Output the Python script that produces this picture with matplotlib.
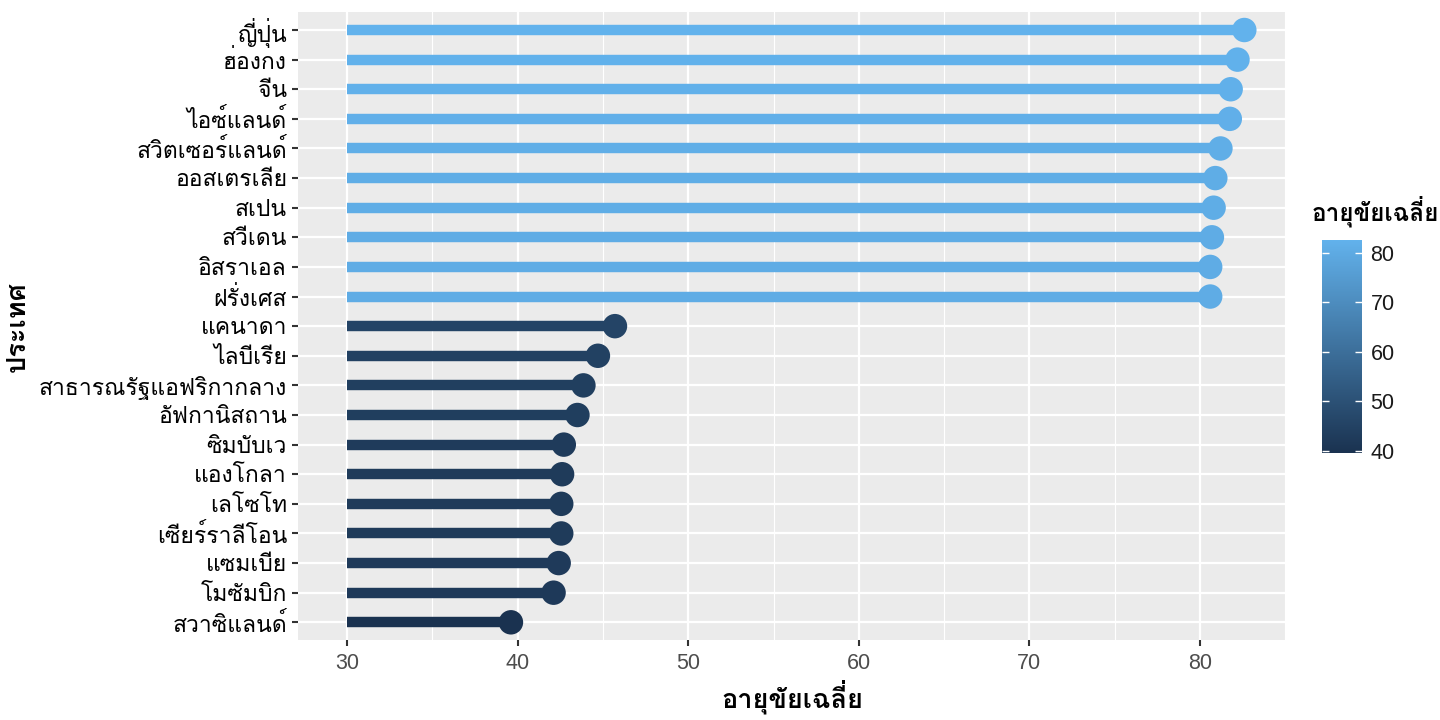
import matplotlib
matplotlib.use("Agg")
import matplotlib.pyplot as plt
import numpy as np
from matplotlib import font_manager
from matplotlib.ft2font import FT2Font
from matplotlib.colors import LinearSegmentedColormap, Normalize
from matplotlib.cm import ScalarMappable
from matplotlib.ticker import MultipleLocator

countries = ["ญี่ปุ่น", "ฮ่องกง", "จีน", "ไอซ์แลนด์", "สวิตเซอร์แลนด์", "ออสเตรเลีย",
             "สเปน", "สวีเดน", "อิสราเอล", "ฝรั่งเศส", "แคนาดา", "ไลบีเรีย",
             "สาธารณรัฐแอฟริกากลาง", "อัฟกานิสถาน", "ซิมบับเว", "แองโกลา", "เลโซโท",
             "เซียร์ราลีโอน", "แซมเบีย", "โมซัมบิก", "สวาซิแลนด์"]
life_exp = [82.6, 82.2, 81.8, 81.75, 81.2, 80.9, 80.8, 80.7, 80.6, 80.6,
            45.7, 44.7, 43.85, 43.5, 42.7, 42.6, 42.55, 42.55, 42.4, 42.1, 39.6]
x_start = 30
x_ticks = [30, 40, 50, 60, 70, 80]
cbar_ticks = [40, 50, 60, 70, 80]


def find_thai_font():
    found = []
    for f in font_manager.fontManager.ttflist:
        try:
            cm = FT2Font(f.fname).get_charmap()
        except Exception:
            continue
        if 0x0E01 in cm:
            found.append(f.name)
    return found[0] if found else None


thai = find_thai_font()
families = ([thai] if thai else []) + ["DejaVu Sans"]
plt.rcParams["font.family"] = families
num_font = ["Liberation Sans", "DejaVu Sans"]

cmap = LinearSegmentedColormap.from_list("gg", ["#1A3250", "#62B2EC"])
norm = Normalize(vmin=min(life_exp), vmax=max(life_exp))

fig = plt.figure(figsize=(14.4, 7.2), dpi=100)
ax = fig.add_axes([0.207, 0.111, 0.686, 0.872])
ax.set_facecolor("#EBEBEB")

n = len(countries)
ypos = np.arange(n)[::-1]
for y, v in zip(ypos, life_exp):
    c = cmap(norm(v))
    ax.plot([x_start, v], [y, y], color=c, lw=7.5, solid_capstyle="butt", zorder=3)
    ax.scatter([v], [y], s=310, color=c, zorder=4, edgecolors="none")

ax.set_xlim(27.12, 85.04)
ax.set_ylim(-0.6, n - 1 + 0.6)
ax.set_xticks(x_ticks)
ax.xaxis.set_minor_locator(MultipleLocator(5))
ax.set_yticks(ypos)
ax.set_yticklabels(countries, fontsize=16.5, color="black")
for lbl in ax.get_xticklabels():
    lbl.set_fontfamily(num_font)
ax.tick_params(axis="x", labelsize=15.5, labelcolor="#4D4D4D", color="#333333",
               length=4, width=1.5, pad=5)
ax.tick_params(axis="y", color="#333333", length=4, width=1.5, pad=4)
ax.tick_params(which="minor", length=0)
ax.grid(which="major", color="white", lw=1.6, zorder=0)
ax.grid(which="minor", axis="x", color="white", lw=0.8, zorder=0)
ax.set_axisbelow(True)
for s in ax.spines.values():
    s.set_visible(False)

ax.set_xlabel("อายุขัยเฉลี่ย", fontsize=19.5, fontweight="bold", labelpad=4)
ax.set_ylabel("ประเทศ", fontsize=19.5, fontweight="bold")
ax.yaxis.set_label_coords(-0.272, 0.5)

cax = fig.add_axes([0.918, 0.371, 0.028, 0.296])
sm = ScalarMappable(norm=norm, cmap=cmap)
cb = fig.colorbar(sm, cax=cax, ticks=cbar_ticks)
cb.outline.set_visible(False)
cax.tick_params(direction="in", color="white", length=5, width=1, labelsize=15.5,
                labelcolor="#1A1A1A", pad=6, left=True, right=True)
for lbl in cax.get_yticklabels():
    lbl.set_fontfamily(num_font)
fig.text(0.911, 0.685, "อายุขัยเฉลี่ย", fontsize=17.5, fontweight="bold", ha="left", va="bottom")

fig.savefig("out.png", dpi=100)
